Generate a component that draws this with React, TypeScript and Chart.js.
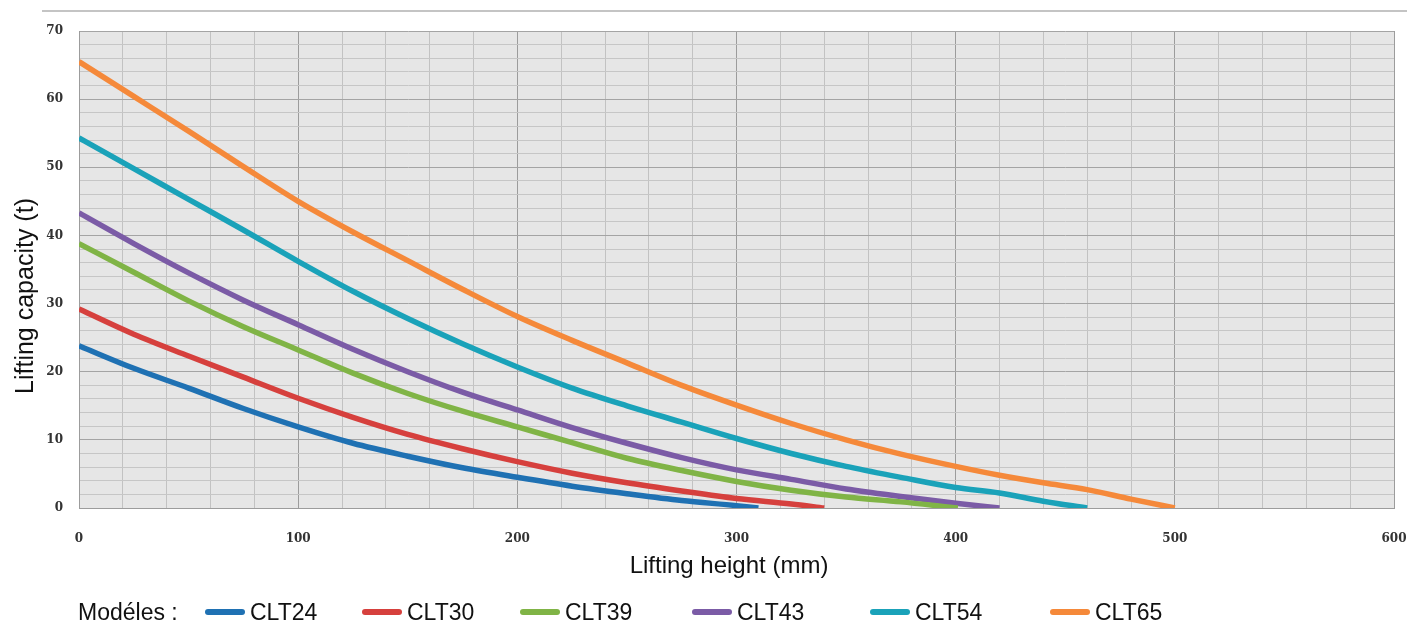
import React, { useEffect, useRef } from "react";
import { Chart, registerables } from "chart.js";

Chart.register(...registerables);

// ---- data ----
const models = ["CLT24", "CLT30", "CLT39", "CLT43", "CLT54", "CLT65"];
const colors = ["#1f71b3", "#d6403d", "#80b446", "#7b5ba6", "#1aa2b9", "#f5893a"];

const clt24X = [0, 25, 50, 75, 100, 125, 150, 175, 200, 225, 250, 275, 300, 310];
const clt24Y = [23.8, 20.5, 17.6, 14.6, 11.9, 9.5, 7.6, 5.9, 4.5, 3.2, 2.1, 1.1, 0.35, 0];

const clt30X = [0, 25, 50, 75, 100, 125, 150, 175, 200, 225, 250, 275, 300, 325, 340];
const clt30Y = [29.2, 25.5, 22.3, 19.2, 16.1, 13.3, 10.8, 8.7, 6.8, 5.1, 3.7, 2.5, 1.4, 0.6, 0];

const clt39X = [0, 25, 50, 75, 100, 125, 150, 175, 200, 225, 250, 275, 300, 325, 350, 375, 401];
const clt39Y = [38.8, 34.6, 30.4, 26.6, 23.2, 19.8, 16.8, 14.2, 11.9, 9.6, 7.3, 5.5, 3.9, 2.6, 1.6, 0.9, 0];

const clt43X = [0, 25, 50, 75, 100, 125, 150, 175, 200, 225, 250, 275, 300, 325, 350, 375, 400, 420];
const clt43Y = [43.3, 38.8, 34.5, 30.5, 26.9, 23.3, 20.0, 17.0, 14.4, 11.8, 9.5, 7.4, 5.6, 4.2, 2.8, 1.7, 0.7, 0];

const clt54X = [0, 25, 50, 75, 100, 125, 150, 175, 200, 225, 250, 275, 300, 325, 350, 375, 400, 420, 440, 460];
const clt54Y = [54.3, 49.8, 45.3, 40.8, 36.2, 31.8, 27.8, 24.1, 20.7, 17.6, 15.0, 12.6, 10.2, 8.0, 6.1, 4.5, 3.0, 2.2, 1.0, 0];

const clt65X = [0, 25, 50, 75, 100, 125, 150, 175, 200, 225, 250, 275, 300, 325, 350, 375, 400, 420, 440, 460, 480, 500];
const clt65Y = [65.5, 60.4, 55.3, 50.1, 45.0, 40.5, 36.3, 32.1, 28.1, 24.6, 21.3, 18.0, 15.1, 12.4, 10.0, 7.9, 6.1, 4.8, 3.7, 2.7, 1.3, 0];

const seriesX = [clt24X, clt30X, clt39X, clt43X, clt54X, clt65X];
const seriesY = [clt24Y, clt30Y, clt39Y, clt43Y, clt54Y, clt65Y];

const xMin = 0, xMax = 600, xStep = 20, xLabelEvery = 100;
const yMin = 0, yMax = 70, yStep = 2, yLabelEvery = 10;

const xTitle = "Lifting height (mm)";
const yTitle = "Lifting capacity (t)";
const legendLabel = "Modéles :";

// ---- layout (not data) ----
const W = 1407, H = 626;
const legendLeft = [205, 362, 520, 692, 870, 1050];

const titleFont = "'Liberation Sans', Arial, sans-serif";

const bgPlugin = {
  id: "plotBg",
  beforeDraw(chart: any) {
    const { ctx, chartArea } = chart;
    if (!chartArea) return;
    ctx.save();
    ctx.fillStyle = "#e6e6e6";
    ctx.fillRect(chartArea.left, chartArea.top, chartArea.right - chartArea.left, chartArea.bottom - chartArea.top);
    ctx.restore();
  },
  afterDraw(chart: any) {
    const { ctx } = chart;
    ctx.save();
    ctx.fillStyle = "#111";
    ctx.textAlign = "center";
    ctx.textBaseline = "middle";
    ctx.font = `24px ${titleFont}`;
    ctx.fillText(xTitle, 729, 566);
    ctx.translate(26, 296);
    ctx.rotate(-Math.PI / 2);
    ctx.font = `25px ${titleFont}`;
    ctx.fillText(yTitle, 0, 0);
    ctx.restore();
  },
};

export default function App() {
  const ref = useRef<HTMLCanvasElement | null>(null);

  useEffect(() => {
    document.body.style.margin = "0";
    if (!ref.current) return;
    const datasets = models.map((m, i) => ({
      label: m,
      data: seriesX[i].map((x, j) => ({ x, y: seriesY[i][j] })),
      borderColor: colors[i],
      backgroundColor: colors[i],
      borderWidth: 5.5,
      pointRadius: 0,
      fill: false,
      cubicInterpolationMode: "monotone" as const,
    }));
    const tickFont = { family: "'DejaVu Serif', serif", size: 12, weight: "bold" as const };
    const chart = new Chart(ref.current, {
      type: "line",
      data: { datasets },
      options: {
        animation: false,
        responsive: false,
        maintainAspectRatio: false,
        layout: { padding: { left: 0, right: 13, top: 31, bottom: 45 } },
        plugins: { legend: { display: false }, tooltip: { enabled: false } },
        scales: {
          x: {
            type: "linear",
            min: xMin,
            max: xMax,
            afterFit: (s: any) => {
              s.height = 73;
              s.paddingLeft = 0;
              s.paddingRight = 0;
            },
            ticks: {
              stepSize: xStep,
              autoSkip: false,
              maxRotation: 0,
              padding: 24,
              color: "#333",
              font: tickFont,
              callback: (v: any) => (Number(v) % xLabelEvery === 0 ? String(v) : ""),
            },
            grid: {
              drawTicks: false,
              color: (c: any) => (c.tick && c.tick.value % xLabelEvery === 0 ? "#9c9c9c" : "#c2c2c2"),
              lineWidth: 1,
            },
            border: { color: "#9c9c9c" },
            title: { display: false },
          },
          y: {
            type: "linear",
            min: yMin,
            max: yMax,
            afterFit: (s: any) => {
              s.width = 79;
              s.paddingTop = 0;
              s.paddingBottom = 0;
            },
            ticks: {
              stepSize: yStep,
              autoSkip: false,
              padding: 16,
              color: "#333",
              font: tickFont,
              callback: (v: any) => (Number(v) % yLabelEvery === 0 ? String(v) : ""),
            },
            grid: {
              drawTicks: false,
              color: (c: any) => (c.tick && c.tick.value % yLabelEvery === 0 ? "#a4a4a4" : "#c6c6c6"),
              lineWidth: 1,
            },
            border: { color: "#9c9c9c" },
          },
        },
      },
      plugins: [bgPlugin],
    });
    return () => chart.destroy();
  }, []);

  return (
    <div style={{ position: "relative", width: W, height: H, background: "#fff", overflow: "hidden" }}>
      <div style={{ position: "absolute", left: 42, top: 10, width: W - 42, height: 2, background: "#c4c4c4" }} />
      <canvas ref={ref} width={W} height={H} style={{ position: "absolute", left: 0, top: 0, width: W, height: H }} />
      <div
        style={{
          position: "absolute",
          left: 78,
          top: 598,
          fontFamily: titleFont,
          fontSize: 23,
          lineHeight: "28px",
          color: "#111",
          whiteSpace: "nowrap",
        }}
      >
        {legendLabel}
      </div>
      {models.map((m, i) => (
        <div
          key={m}
          style={{
            position: "absolute",
            left: legendLeft[i],
            top: 598,
            height: 28,
            display: "flex",
            alignItems: "center",
            fontFamily: titleFont,
            fontSize: 23,
            color: "#111",
            whiteSpace: "nowrap",
          }}
        >
          <span style={{ display: "inline-block", width: 40, height: 6, borderRadius: 3, background: colors[i], marginRight: 5 }} />
          <span>{m}</span>
        </div>
      ))}
    </div>
  );
}
